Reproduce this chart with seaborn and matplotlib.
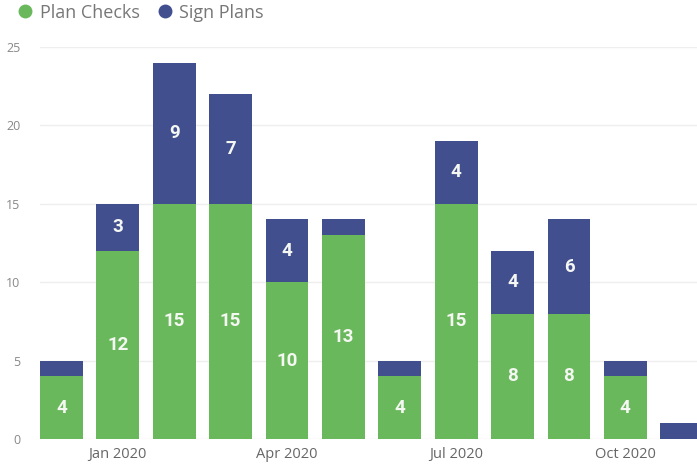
import matplotlib
matplotlib.use("Agg")
import matplotlib.pyplot as plt
import seaborn as sns
import pandas as pd
from matplotlib.lines import Line2D

months = ["Dec 2019", "Jan 2020", "Feb 2020", "Mar 2020", "Apr 2020", "May 2020",
          "Jun 2020", "Jul 2020", "Aug 2020", "Sep 2020", "Oct 2020", "Nov 2020"]
plan_checks = [4, 12, 15, 15, 10, 13, 4, 15, 8, 8, 4, 0]
sign_plans = [1, 3, 9, 7, 4, 1, 1, 4, 4, 6, 1, 1]
tick_labels = ["Jan 2020", "Apr 2020", "Jul 2020", "Oct 2020"]

GREEN = "#6ab85c"
BLUE = "#414f8f"

df = pd.DataFrame({"month": months, "plan": plan_checks, "sign": sign_plans})
df["total"] = df["plan"] + df["sign"]

sns.set_style("white")
plt.rcParams["font.family"] = ["Open Sans", "DejaVu Sans"]

fig = plt.figure(figsize=(6.97, 4.72), dpi=100)
ax = fig.add_axes([40 / 697, 33 / 472, 657 / 697, (439 - 47) / 472])

sns.barplot(data=df, x="month", y="total", color=BLUE, width=0.76,
            saturation=1, ax=ax, order=months, linewidth=0)
sns.barplot(data=df, x="month", y="plan", color=GREEN, width=0.76,
            saturation=1, ax=ax, order=months, linewidth=0)

label_font = dict(color="#f4f7f2", fontsize=13.5, fontweight="bold",
                  ha="center", va="center",
                  family=["Roboto", "DejaVu Sans"])
for i, (p, s) in enumerate(zip(plan_checks, sign_plans)):
    if p > 1:
        ax.text(i, p / 2, str(p), **label_font)
    if s > 1:
        ax.text(i, p + s / 2, str(s), **label_font)

ax.set_ylim(0, 25)
ax.set_xlim(-0.38, 11.27)
ax.set_yticks([0, 5, 10, 15, 20, 25])
ax.yaxis.grid(True, color="#eeeeee", linewidth=1)
ax.set_axisbelow(True)
for sp in ax.spines.values():
    sp.set_visible(False)
ax.tick_params(axis="y", colors="#888888", labelsize=9, length=0, pad=14)
ax.tick_params(axis="x", colors="#666666", labelsize=10.5, length=0, pad=6)
ax.set_xticks([months.index(t) for t in tick_labels])
ax.set_xticklabels(tick_labels)
ax.set_xlabel("")
ax.set_ylabel("")

handles = [Line2D([], [], marker="o", linestyle="", color=GREEN, markersize=9),
           Line2D([], [], marker="o", linestyle="", color=BLUE, markersize=9)]
fig.legend(handles, ["Plan Checks", "Sign Plans"], loc="upper left",
           bbox_to_anchor=(-0.005, 1.015), ncol=2, frameon=False,
           fontsize=13, labelcolor="#777777", handletextpad=-0.2,
           columnspacing=0.4, borderaxespad=0.2)

fig.savefig("out.png", dpi=100)
